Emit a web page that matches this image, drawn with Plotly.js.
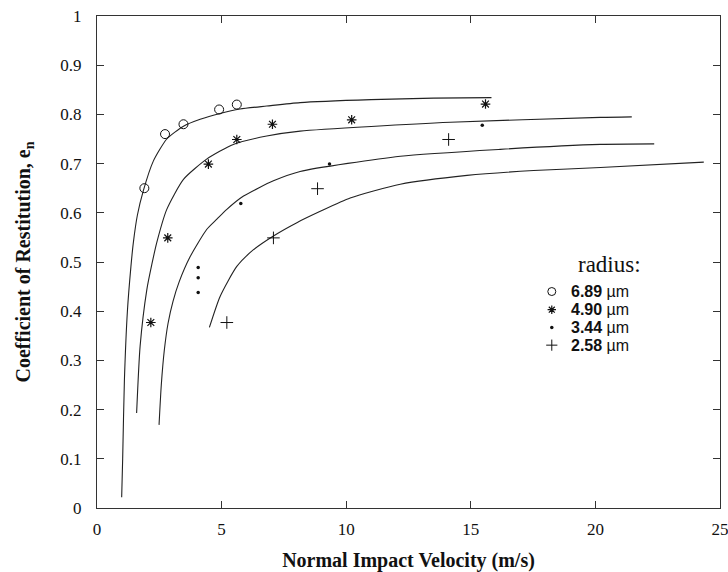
<!DOCTYPE html>
<html>
<head>
<meta charset="utf-8">
<script src="https://cdn.plot.ly/plotly-3.0.1.min.js"></script>
<style>html,body{margin:0;padding:0;background:#fff;}#chart{width:728px;height:572px;}</style>
</head>
<body>
<div id="chart"></div>
<script>
// ---- data ----
const radiusLabels = ["6.89", "4.90", "3.44", "2.58"];

// measured points
const circX = [1.90, 2.73, 3.47, 4.90, 5.61];
const circY = [0.650, 0.760, 0.780, 0.810, 0.820];
const astX  = [2.16, 2.84, 4.47, 5.61, 7.04, 10.22, 15.59];
const astY  = [0.377, 0.549, 0.699, 0.749, 0.780, 0.789, 0.821];
const dotX  = [4.06, 4.06, 4.06, 5.77, 9.33, 15.46];
const dotY  = [0.489, 0.468, 0.438, 0.619, 0.699, 0.778];
const plusX = [5.21, 7.08, 8.85, 14.11];
const plusY = [0.377, 0.549, 0.649, 0.749];

// fitted curves
const fit1X = [0.99, 1.03, 1.10, 1.22, 1.36, 1.46, 1.62, 1.86, 2.26, 2.80, 3.47, 4.14, 4.94, 5.74, 6.81, 8.15, 11.0, 13.5, 15.83];
const fit1Y = [0.022, 0.100, 0.260, 0.400, 0.490, 0.540, 0.595, 0.645, 0.705, 0.750, 0.776, 0.790, 0.802, 0.811, 0.817, 0.824, 0.830, 0.833, 0.834];
const fit2X = [1.59, 1.73, 2.00, 2.20, 2.40, 2.80, 3.47, 4.40, 5.47, 6.81, 8.15, 14.18, 20.2, 21.46];
const fit2Y = [0.193, 0.329, 0.444, 0.495, 0.540, 0.607, 0.668, 0.709, 0.739, 0.756, 0.766, 0.784, 0.794, 0.795];
const fit3X = [2.49, 2.58, 2.70, 2.85, 3.05, 3.30, 3.73, 4.40, 4.81, 5.21, 5.88, 7.08, 8.15, 12.17, 16.18, 20.2, 22.36];
const fit3Y = [0.169, 0.250, 0.320, 0.375, 0.420, 0.460, 0.510, 0.566, 0.587, 0.607, 0.634, 0.665, 0.684, 0.715, 0.729, 0.739, 0.740];
const fit4X = [4.51, 4.94, 5.61, 6.28, 7.08, 8.02, 8.96, 10.16, 12.17, 14.85, 17.52, 20.2, 24.35];
const fit4Y = [0.367, 0.430, 0.491, 0.525, 0.553, 0.580, 0.603, 0.630, 0.658, 0.676, 0.686, 0.692, 0.703];

const xTicks = [0, 5, 10, 15, 20, 25];
const yTicks = [0, 0.1, 0.2, 0.3, 0.4, 0.5, 0.6, 0.7, 0.8, 0.9, 1];
const yTickText = ["0", "0.1", "0.2", "0.3", "0.4", "0.5", "0.6", "0.7", "0.8", "0.9", "1"];

// ---- styles ----
const ink = "#111";
const serif = "Liberation Serif, Times New Roman, serif";
const lineStyle = {color: "#222", width: 1.1, shape: "spline", smoothing: 0.6};
const markerStyles = [
  {symbol: "circle-open", size: 9, color: ink, line: {width: 1, color: ink}},
  {symbol: "asterisk-open", size: 8, color: ink, line: {width: 1.2, color: ink}},
  {symbol: "circle", size: 3.5, color: ink},
  {symbol: "cross-thin-open", size: 9, color: ink, line: {width: 1, color: ink}}
];
const keyMarkerSizes = [8, 7, 3.5, 8];

const traces = [];
[[fit1X, fit1Y], [fit2X, fit2Y], [fit3X, fit3Y], [fit4X, fit4Y]].forEach(function (c) {
  traces.push({x: c[0], y: c[1], mode: "lines", line: lineStyle, hoverinfo: "skip", showlegend: false});
});
[[circX, circY], [astX, astY], [dotX, dotY], [plusX, plusY]].forEach(function (p, i) {
  traces.push({x: p[0], y: p[1], mode: "markers", marker: markerStyles[i], showlegend: false});
});

// legend key (drawn in paper-like overlay axes)
const keyX = 0.730;
const keyRows = [0.440, 0.403, 0.367, 0.331];
markerStyles.forEach(function (m, i) {
  traces.push({x: [keyX], y: [keyRows[i]], xaxis: "x2", yaxis: "y2", mode: "markers",
    marker: Object.assign({}, m, {size: keyMarkerSizes[i]}), showlegend: false, hoverinfo: "skip"});
});

const annotations = [{
  xref: "paper", yref: "paper", x: 0.877, y: 0.494, xanchor: "right", yanchor: "middle",
  text: "radius:", showarrow: false,
  font: {family: serif, size: 23, color: ink}
}];
radiusLabels.forEach(function (r, i) {
  annotations.push({
    xref: "paper", yref: "paper", x: 0.760, y: keyRows[i], xanchor: "left", yanchor: "middle",
    text: "<b>" + r + "</b> \u00b5m", showarrow: false, borderpad: 0,
    font: {family: "Liberation Sans, Arial, sans-serif", size: 16, color: ink}
  });
});

const layout = {
  width: 728, height: 572,
  margin: {l: 97, r: 8, t: 16, b: 64},
  paper_bgcolor: "#fff", plot_bgcolor: "#fff",
  showlegend: false,
  font: {family: serif, color: ink},
  xaxis: {
    range: [0, 25], tickvals: xTicks, ticktext: xTicks.map(String),
    ticks: "inside", ticklen: 7, tickcolor: "#333", mirror: "ticks",
    showline: true, linecolor: "#333", linewidth: 1, showgrid: false, zeroline: false,
    tickfont: {family: serif, size: 17, color: ink}, ticklabelstandoff: 6,
    ticklabeloverflow: "allow",
    title: {text: "<b>Normal Impact Velocity (m/s)</b>", font: {family: serif, size: 20, color: ink}, standoff: 14}
  },
  yaxis: {
    range: [0, 1], tickvals: yTicks, ticktext: yTickText,
    ticks: "inside", ticklen: 7, tickcolor: "#333", mirror: "ticks",
    showline: true, linecolor: "#333", linewidth: 1, showgrid: false, zeroline: false,
    tickfont: {family: serif, size: 17, color: ink}, ticklabelstandoff: 11,
    title: {text: "<b>Coefficient of Restitution, e<sub>n</sub></b>", font: {family: serif, size: 20, color: ink}, standoff: 24}
  },
  xaxis2: {overlaying: "x", range: [0, 1], visible: false, fixedrange: true},
  yaxis2: {overlaying: "y", range: [0, 1], visible: false, fixedrange: true},
  annotations: annotations
};

Plotly.newPlot("chart", traces, layout, {displayModeBar: false, staticPlot: true});
</script>
</body>
</html>
